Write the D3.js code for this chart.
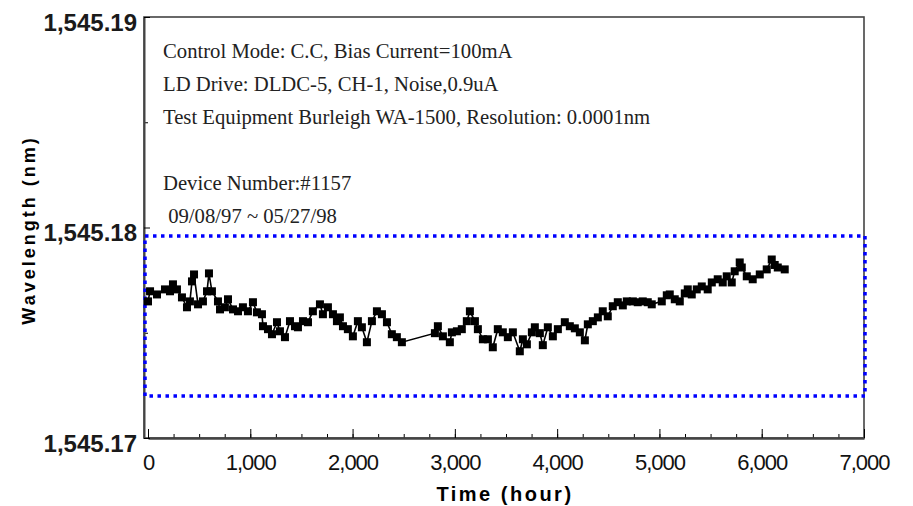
<!DOCTYPE html>
<html>
<head>
<meta charset="utf-8">
<script src="https://cdn.jsdelivr.net/npm/d3@7"></script>
<style>
  body { margin: 0; background: #fff; }
  svg { display: block; }
</style>
</head>
<body>
<div id="chart"></div>
<script>
// time in hours
var hours = [0, 20, 88, 166, 215, 244, 283, 332, 381, 410, 430, 450, 489, 537, 577, 596, 625, 684, 704, 752,
  782, 831, 880, 928, 977, 1026, 1065, 1114, 1124, 1173, 1212, 1261, 1290, 1339, 1388, 1437, 1466, 1515, 1564, 1612,
  1681, 1710, 1759, 1808, 1847, 1876, 1906, 1954, 2003, 2052, 2091, 2140, 2189, 2238, 2287, 2336, 2384, 2433, 2482,
  2805, 2834, 2883, 2951, 2971, 3020, 3068, 3117, 3147, 3196, 3225, 3274, 3323, 3371, 3420, 3469, 3518, 3567, 3635,
  3665, 3704, 3753, 3782, 3831, 3860, 3909, 3958, 4007, 4075, 4124, 4173, 4222, 4271, 4300, 4349, 4398, 4446, 4495,
  4544, 4593, 4642, 4681, 4740, 4788, 4837, 4886, 4925, 5023, 5072, 5101, 5150, 5199, 5248, 5277, 5316, 5365, 5414,
  5472, 5512, 5570, 5619, 5658, 5707, 5736, 5785, 5805, 5854, 5912, 5981, 6049, 6098, 6127, 6157, 6225];

// wavelength in nm
var wavelength = [1545.17649, 1545.17697, 1545.17682, 1545.17706, 1545.17697, 1545.17730, 1545.17706, 1545.17668,
  1545.17621, 1545.17649, 1545.17744, 1545.17777, 1545.17635, 1545.17649, 1545.17697, 1545.17782, 1545.17697,
  1545.17649, 1545.17611, 1545.17621, 1545.17659, 1545.17611, 1545.17602, 1545.17621, 1545.17602, 1545.17645,
  1545.17597, 1545.17588, 1545.17531, 1545.17517, 1545.17493, 1545.17550, 1545.17507, 1545.17479, 1545.17555,
  1545.17531, 1545.17526, 1545.17555, 1545.17550, 1545.17602, 1545.17635, 1545.17588, 1545.17621, 1545.17588,
  1545.17555, 1545.17573, 1545.17531, 1545.17517, 1545.17483, 1545.17555, 1545.17526, 1545.17455, 1545.17555,
  1545.17602, 1545.17588, 1545.17550, 1545.17493, 1545.17479, 1545.17455,
  1545.17498, 1545.17531, 1545.17483, 1545.17455, 1545.17502, 1545.17507, 1545.17517, 1545.17555, 1545.17602,
  1545.17555, 1545.17517, 1545.17469, 1545.17469, 1545.17431, 1545.17517, 1545.17502, 1545.17479, 1545.17502,
  1545.17412, 1545.17469, 1545.17445, 1545.17502, 1545.17526, 1545.17498, 1545.17441, 1545.17526, 1545.17483,
  1545.17517, 1545.17550, 1545.17531, 1545.17521, 1545.17502, 1545.17464, 1545.17540, 1545.17555, 1545.17573,
  1545.17602, 1545.17578, 1545.17626, 1545.17645, 1545.17630, 1545.17649, 1545.17649, 1545.17645, 1545.17649,
  1545.17645, 1545.17635, 1545.17649, 1545.17678, 1545.17682, 1545.17659, 1545.17649, 1545.17687, 1545.17706,
  1545.17682, 1545.17706, 1545.17720, 1545.17706, 1545.17739, 1545.17754, 1545.17739, 1545.17768, 1545.17739,
  1545.17792, 1545.17834, 1545.17810, 1545.17768, 1545.17754, 1545.17777, 1545.17801, 1545.17848, 1545.17822,
  1545.17810, 1545.17801];

// axis ticks
var xMajor = [0, 1000, 2000, 3000, 4000, 5000, 6000, 7000];
var xMinor = d3.range(0, 7001, 250);
var yMajor = [1545.17, 1545.18, 1545.19];
var yMinor = [1545.175, 1545.185];

// text block in the plot
var notes = [
  "Control Mode: C.C, Bias Current=100mA",
  "LD Drive: DLDC-5, CH-1, Noise,0.9uA",
  "Test Equipment Burleigh WA-1500, Resolution: 0.0001nm",
  "",
  "Device Number:#1157",
  " 09/08/97 ~ 05/27/98"
];

// band drawn with the blue dotted box
var band = [1545.1720, 1545.1796];

var width = 913, height = 506;
var plotL = 144, plotR = 864, plotT = 17, plotB = 438;

var svg = d3.select("#chart").append("svg")
    .attr("width", width)
    .attr("height", height);

var x = d3.scaleLinear().domain([0, 7000]).range([148, plotR]);
var y = d3.scaleLinear().domain([1545.17, 1545.19]).range([plotB, plotT]);

// frame
svg.append("rect")
    .attr("x", plotL).attr("y", plotT)
    .attr("width", plotR - plotL).attr("height", plotB - plotT)
    .attr("fill", "none")
    .attr("stroke", "#444")
    .attr("stroke-width", 1.6);

// x axis minor ticks
svg.append("g")
    .attr("transform", "translate(0," + plotB + ")")
    .call(d3.axisBottom(x).tickValues(xMinor).tickSizeInner(-4).tickSizeOuter(0).tickFormat(""))
    .call(function (g) { g.select(".domain").remove(); });

// x axis major ticks + labels
var xAxis = svg.append("g")
    .attr("transform", "translate(0," + plotB + ")")
    .call(d3.axisBottom(x).tickValues(xMajor).tickSizeInner(-9).tickSizeOuter(0)
        .tickPadding(16).tickFormat(d3.format(",")));
xAxis.select(".domain").attr("stroke", "#444").attr("stroke-width", 2.5);
xAxis.selectAll("text")
    .style("font-family", "'Liberation Sans', Arial, sans-serif")
    .style("font-size", "22px")
    .style("letter-spacing", "-1px")
    .attr("fill", "#111");

// y axis minor ticks
svg.append("g")
    .attr("transform", "translate(" + plotL + ",0)")
    .call(d3.axisLeft(y).tickValues(yMinor).tickSizeInner(-4).tickSizeOuter(0).tickFormat(""))
    .call(function (g) { g.select(".domain").remove(); });

// y axis labels
var yAxis = svg.append("g")
    .attr("transform", "translate(" + plotL + ",0)")
    .call(d3.axisLeft(y).tickValues(yMajor).tickSizeInner(-6).tickSizeOuter(0)
        .tickPadding(7).tickFormat(d3.format(",.2f")));
yAxis.select(".domain").attr("stroke", "#444").attr("stroke-width", 2);
yAxis.selectAll("text")
    .attr("dy", "0.55em")
    .style("font-family", "'Liberation Sans', Arial, sans-serif")
    .style("font-size", "24px")
    .style("font-weight", "bold")
    .style("letter-spacing", "0px")
    .attr("fill", "#1a1a1a");

// axis titles
svg.append("text")
    .attr("x", 505).attr("y", 501)
    .attr("text-anchor", "middle")
    .style("font-family", "'Liberation Sans', Arial, sans-serif")
    .style("font-size", "20px")
    .style("font-weight", "bold")
    .style("letter-spacing", "2.5px")
    .text("Time (hour)");

svg.append("text")
    .attr("transform", "translate(35,230) rotate(-90)")
    .attr("text-anchor", "middle")
    .style("font-family", "'Liberation Sans', Arial, sans-serif")
    .style("font-size", "18px")
    .style("font-weight", "bold")
    .style("letter-spacing", "3px")
    .text("Wavelength (nm)");

// notes
svg.append("g").selectAll("text")
    .data(notes)
    .enter().append("text")
    .attr("x", 163)
    .attr("y", function (d, i) { return 58 + i * 33; })
    .attr("xml:space", "preserve")
    .style("font-family", "'Liberation Serif', 'Times New Roman', serif")
    .style("font-size", "20.7px")
    .attr("fill", "#222")
    .text(function (d) { return d; });

// blue dotted box
svg.append("rect")
    .attr("x", plotL + 1).attr("y", y(band[1]))
    .attr("width", plotR - plotL).attr("height", y(band[0]) - y(band[1]))
    .attr("fill", "none")
    .attr("stroke", "#0000ff")
    .attr("stroke-width", 3.5)
    .attr("stroke-dasharray", "3.5,4.5");

// data
var data = hours.map(function (h, i) { return [h, wavelength[i]]; });

svg.append("path")
    .datum(data)
    .attr("fill", "none")
    .attr("stroke", "#000")
    .attr("stroke-width", 1.6)
    .attr("d", d3.line()
        .x(function (d) { return x(d[0]); })
        .y(function (d) { return y(d[1]); }));

svg.append("g").selectAll("rect")
    .data(data)
    .enter().append("rect")
    .attr("x", function (d) { return x(d[0]) - 4; })
    .attr("y", function (d) { return y(d[1]) - 4; })
    .attr("width", 8)
    .attr("height", 8)
    .attr("fill", "#000");
</script>
</body>
</html>
